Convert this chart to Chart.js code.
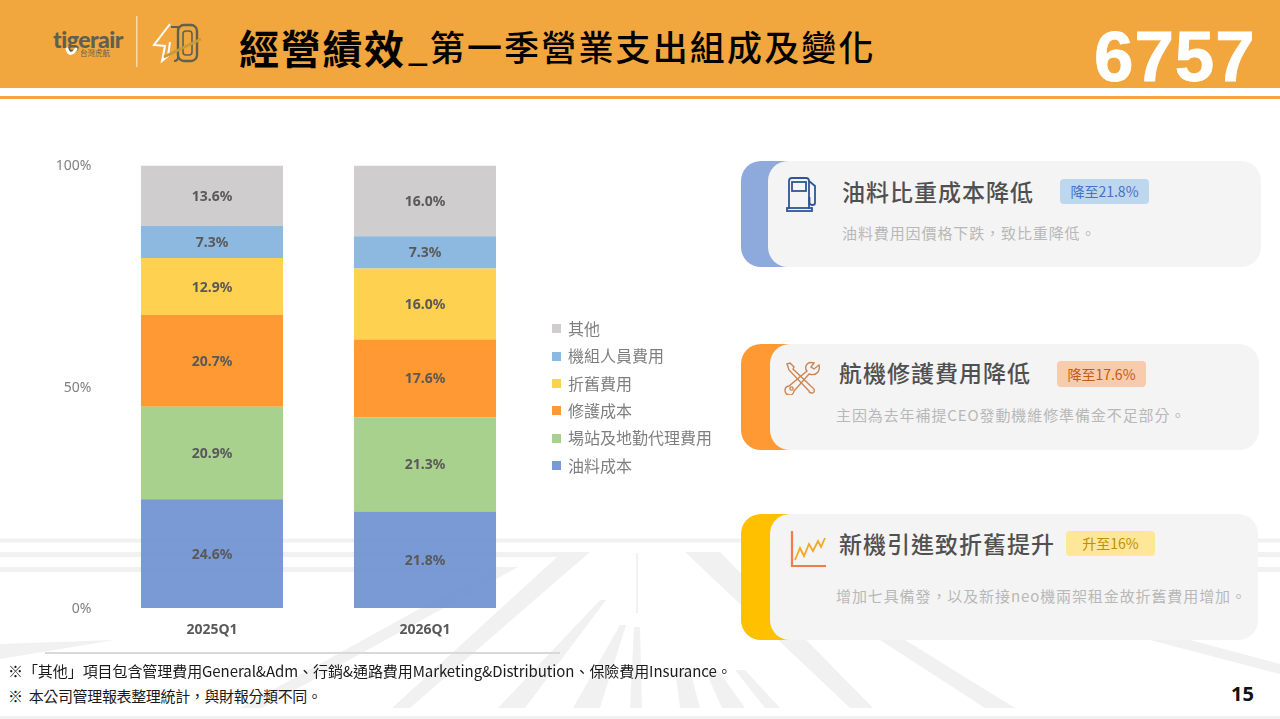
<!DOCTYPE html>
<html lang="zh-Hant">
<head>
<meta charset="utf-8">
<title>經營績效</title>
<script src="https://cdn.jsdelivr.net/npm/chart.js@4"></script>
<style>
  html, body { margin: 0; padding: 0; background: #fff; }
  body { position: relative; width: 1280px; height: 719px; overflow: hidden; font-family: "Noto Sans CJK TC", "Noto Sans", sans-serif; }
  .abs { position: absolute; white-space: nowrap; }
  #road { position: absolute; left: 0; top: 0; }
  #band { position: absolute; left: 0; top: 0; width: 1280px; height: 88px; background: #F2A63E; }
  #rule { position: absolute; left: 0; top: 96px; width: 1280px; height: 3px; background: #F2A63E; }
  #chart { position: absolute; left: 0; top: 140px; }
  .back { position: absolute; left: 741px; width: 480px; border-radius: 20px; }
  .front { position: absolute; background: #F4F4F4; border-radius: 20px; }
  .head { position: absolute; font-size: 23px; font-weight: 500; letter-spacing: 1px; color: #505050; line-height: 30px; white-space: nowrap; }
  .sub { position: absolute; font-size: 15px; letter-spacing: .9px; color: #B8B8B8; line-height: 22px; white-space: nowrap; }
  .pill { position: absolute; width: 89px; height: 25px; border-radius: 4px; font-size: 14px; line-height: 25px; text-align: center; }
  .note { position: absolute; left: 8px; font-size: 15px; color: #1a1a1a; line-height: 20px; white-space: nowrap; }
</style>
</head>
<body>

<!-- faint runway drawing behind everything -->
<svg id="road" width="1280" height="719" fill="#F1F1F1" stroke="none">
  <rect x="0" y="538.5" width="1280" height="4"/>
  <polygon points="0,552 590,552 410,708 392,708 557,557 0,557"/>
  <polygon points="0,567 518,567 262,708 240,708 486,572 0,572"/>
  <polygon points="0,644 115,640 0,659"/>
  <polygon points="498,708 600,600 606,600 525,708"/>
  <polygon points="573,708 620,625 626,625 600,708"/>
  <rect x="636" y="553" width="2" height="60"/>
  <polygon points="634,627 640,627 642,708 630,708"/>
  <polygon points="685,552 720,552 873,708 850,708"/>
  <polygon points="880,640 905,640 1015,708 985,708"/>
  <polygon points="675,670 690,670 700,708 680,708"/>
  <polygon points="705,670 718,670 745,708 722,708"/>
  <polygon points="735,670 745,670 780,708 765,708"/>
  <polygon points="1150,640 1190,640 1280,664 1280,674"/>
  <rect x="1250" y="552" width="30" height="5"/>
  <rect x="1250" y="567" width="30" height="5"/>
  <rect x="0" y="716" width="1280" height="3"/>
</svg>

<div id="band"></div>
<div id="rule"></div>

<!-- logos -->
<div class="abs" style="left:53px;top:24px;font:900 23px/30px Lato,sans-serif;letter-spacing:-.5px;color:#5E6150">tigerair</div>
<div class="abs" style="left:80px;top:47px;font-size:7.5px;line-height:11px;color:#5E6150">台灣虎航</div>
<svg class="abs" style="left:0;top:0" width="210" height="88">
  <path d="M67 49 q3 9 9 0" fill="none" stroke="#fff" stroke-width="3" stroke-linecap="round"/>
  <rect x="136" y="16" width="1.5" height="51" fill="#F9D9A8"/>
  <path d="M170 24 L154 45 L165 46 L162 61 L168 56 L170 42" fill="none" stroke="#fff" stroke-width="2"/>
  <path d="M171 27 h7 v30 q0 4 -4 4" fill="none" stroke="#5E6150" stroke-width="2"/>
  <rect x="178" y="25" width="19" height="36" rx="6" fill="none" stroke="#5E6150" stroke-width="2.4"/>
  <rect x="183" y="31" width="9" height="24" rx="3" fill="none" stroke="#5E6150" stroke-width="1.6"/>
  <path d="M164 57 L201 39" stroke="#C79A3A" stroke-width="2.6"/>
</svg>

<div class="abs" style="left:239px;top:18px;font-size:40px;font-weight:700;line-height:58px;letter-spacing:1.7px;color:#000">經營績效</div>
<div class="abs" style="left:408px;top:21px;font-size:35px;font-weight:500;line-height:50px;letter-spacing:2.15px;color:#000">_第一季營業支出組成及變化</div>
<div class="abs" style="left:1094px;top:15px;font:700 71px/84px 'Liberation Sans',sans-serif;letter-spacing:.9px;color:#fff;-webkit-text-stroke:.8px #fff">6757</div>

<canvas id="chart" width="730" height="515"></canvas>

<!-- fuel card -->
<div class="back" style="top:161px;height:106px;background:#8EA9DB"></div>
<div class="front" style="left:768px;top:161px;width:493px;height:105.5px"></div>
<svg class="abs" style="left:785px;top:175px" width="34" height="38" fill="none" stroke="#2F5597" stroke-width="1.8">
  <path d="M4 34 V6 q0 -3 3 -3 h14 q3 0 3 3 V34"/>
  <rect x="7" y="7" width="14" height="9"/>
  <rect x="2" y="33" width="25" height="3"/>
  <path d="M24 6 l6 5 v17 q0 2 -2.5 2 t-3 -2 v-6"/>
</svg>
<div class="head" style="left:842px;top:176px">油料比重成本降低</div>
<div class="pill" style="left:1060px;top:179px;background:#BDD7EE;color:#4472C4">降至21.8%</div>
<div class="sub" style="left:842px;top:222px">油料費用因價格下跌，致比重降低。</div>

<!-- maintenance card -->
<div class="back" style="top:344px;height:106px;background:#FF9933"></div>
<div class="front" style="left:770px;top:344px;width:489px;height:105.5px"></div>
<svg class="abs" style="left:784px;top:361px" width="38" height="34" fill="none" stroke="#CC8552" stroke-width="1.4">
  <path d="M3 3 l3 -1 l4 4 l-1 2 l21 20 q1 4 -2 4 q-3 0 -3 -2 L5 9 z"/>
  <path d="M35 4 l-5 4 l-3 -2 l3 -4 q-6 -2 -8 3 q-1 3 1 5 L5 25 a4.5 4.5 0 1 0 5 5 L25 13 q6 2 9 -2 q2 -3 1 -7 z"/>
  <circle cx="7.5" cy="27.5" r="1.6"/>
</svg>
<div class="head" style="left:839px;top:357px">航機修護費用降低</div>
<div class="pill" style="left:1057px;top:361px;height:26px;line-height:26px;background:#F8CBAD;color:#C55A11">降至17.6%</div>
<div class="sub" style="left:836px;top:404px">主因為去年補提CEO發動機維修準備金不足部分。</div>

<!-- depreciation card -->
<div class="back" style="top:514px;height:125.5px;background:#FFC000"></div>
<div class="front" style="left:770px;top:514px;width:488px;height:125.5px"></div>
<svg class="abs" style="left:789px;top:529px" width="40" height="40" fill="none">
  <path d="M3 2 V37 H37" stroke="#F4794C" stroke-width="2.2"/>
  <path d="M6 31 L11 19 L15 27 L20 15 L24 22 L29 12 L32 18 L36 9" stroke="#F5A623" stroke-width="1.8"/>
</svg>
<div class="head" style="left:839px;top:528px">新機引進致折舊提升</div>
<div class="pill" style="left:1066px;top:531px;background:#FFE699;color:#BF9000">升至16%</div>
<div class="sub" style="left:836px;top:585px">增加七具備發，以及新接neo機兩架租金故折舊費用增加。</div>

<div class="abs" style="left:45px;top:652px;width:515px;height:2px;background:#D9D9D9"></div>
<div class="note" style="top:661px;letter-spacing:-.07px">※「其他」項目包含管理費用General&amp;Adm、行銷&amp;通路費用Marketing&amp;Distribution、保險費用Insurance。</div>
<div class="note" style="top:686px;letter-spacing:-.35px">※ &nbsp;本公司管理報表整理統計，與財報分類不同。</div>
<div class="abs" style="left:1231px;top:680px;font:700 20px/28px 'Noto Sans',sans-serif;color:#111">15</div>

<script>
// stacked share of operating expense per quarter
var quarters = ['2025Q1', '2026Q1'];
var fuelCost = [24.6, 21.8];
var stationCost = [20.9, 21.3];
var repairCost = [20.7, 17.6];
var depreciation = [12.9, 16.0];
var crewCost = [7.3, 7.3];
var otherCost = [13.6, 16.0];
var yTicks = [0, 50, 100];

var labelFont = '"Noto Sans", "Noto Sans CJK TC", sans-serif';
var cjkFont = '"Noto Sans CJK TC", "Noto Sans", sans-serif';

function series(label, data, color) {
    return { label: label, data: data, backgroundColor: color, barPercentage: 0.667, categoryPercentage: 1 };
}

// square swatch wider than the legend's reserved box, so the text sits closer to it
function swatch(color) {
    var c = document.createElement('canvas');
    c.width = 9;
    c.height = 9;
    var g = c.getContext('2d');
    g.fillStyle = color;
    g.fillRect(0, 0, 9, 9);
    return c;
}

// prints each segment's percentage in the middle of its bar
var segmentLabels = {
    id: 'segmentLabels',
    afterDatasetsDraw: function (chart) {
        var ctx = chart.ctx;
        ctx.save();
        ctx.font = '700 14px ' + labelFont;
        ctx.fillStyle = '#595959';
        ctx.textAlign = 'center';
        ctx.textBaseline = 'middle';
        chart.data.datasets.forEach(function (ds, i) {
            chart.getDatasetMeta(i).data.forEach(function (bar, j) {
                var mid = bar.getCenterPoint();
                ctx.fillText(ds.data[j].toFixed(1) + '%', mid.x, mid.y + 1);
            });
        });
        ctx.restore();
    }
};

// moves the legend column away from the bars and up level with the plot's middle
var legendGap = {
    id: 'legendGap',
    afterLayout: function (chart) {
        var legend = chart.legend;
        legend.left += 11;
        legend.right += 11;
        legend.top -= 13;
        legend.bottom -= 13;
    }
};

new Chart(document.getElementById('chart').getContext('2d'), {
    type: 'bar',
    plugins: [segmentLabels, legendGap],
    data: {
        labels: quarters,
        datasets: [
            series('油料成本', fuelCost, 'rgba(108,143,209,0.9)'),
            series('場站及地勤代理費用', stationCost, '#A9D18E'),
            series('修護成本', repairCost, '#FF9933'),
            series('折舊費用', depreciation, '#FFD150'),
            series('機組人員費用', crewCost, '#8DB8E0'),
            series('其他', otherCost, '#CFCDCE')
        ]
    },
    options: {
        responsive: false,
        animation: false,
        layout: { autoPadding: false, padding: { left: 0.5, top: 25.5, right: 21.5, bottom: 0 } },
        scales: {
            x: {
                stacked: true,
                grid: { display: false },
                border: { display: false },
                ticks: { color: '#595959', font: { family: labelFont, size: 14, weight: 700 }, padding: 6 },
                afterFit: function (scale) { scale.height = 47; }
            },
            y: {
                stacked: true,
                min: 0,
                max: 100,
                grid: { display: false, drawTicks: false },
                border: { display: false },
                afterBuildTicks: function (scale) {
                    scale.ticks = yTicks.map(function (v) { return { value: v }; });
                },
                ticks: {
                    color: '#7F7F7F',
                    padding: 14,
                    labelOffset: 1,
                    font: { family: labelFont, size: 14 },
                    callback: function (v) { return v + '%'; }
                },
                afterFit: function (scale) { scale.width = 105; }
            }
        },
        plugins: {
            tooltip: { enabled: false },
            legend: {
                position: 'right',
                reverse: true,
                labels: {
                    color: '#7F7F7F',
                    font: { family: cjkFont, size: 16 },
                    usePointStyle: true,
                    pointStyleWidth: 6,
                    padding: 11.4,
                    generateLabels: function (chart) {
                        var items = Chart.defaults.plugins.legend.labels.generateLabels(chart);
                        items.forEach(function (item) {
                            item.pointStyle = swatch(chart.data.datasets[item.datasetIndex].backgroundColor);
                        });
                        return items;
                    }
                }
            }
        }
    }
});
</script>
</body>
</html>
